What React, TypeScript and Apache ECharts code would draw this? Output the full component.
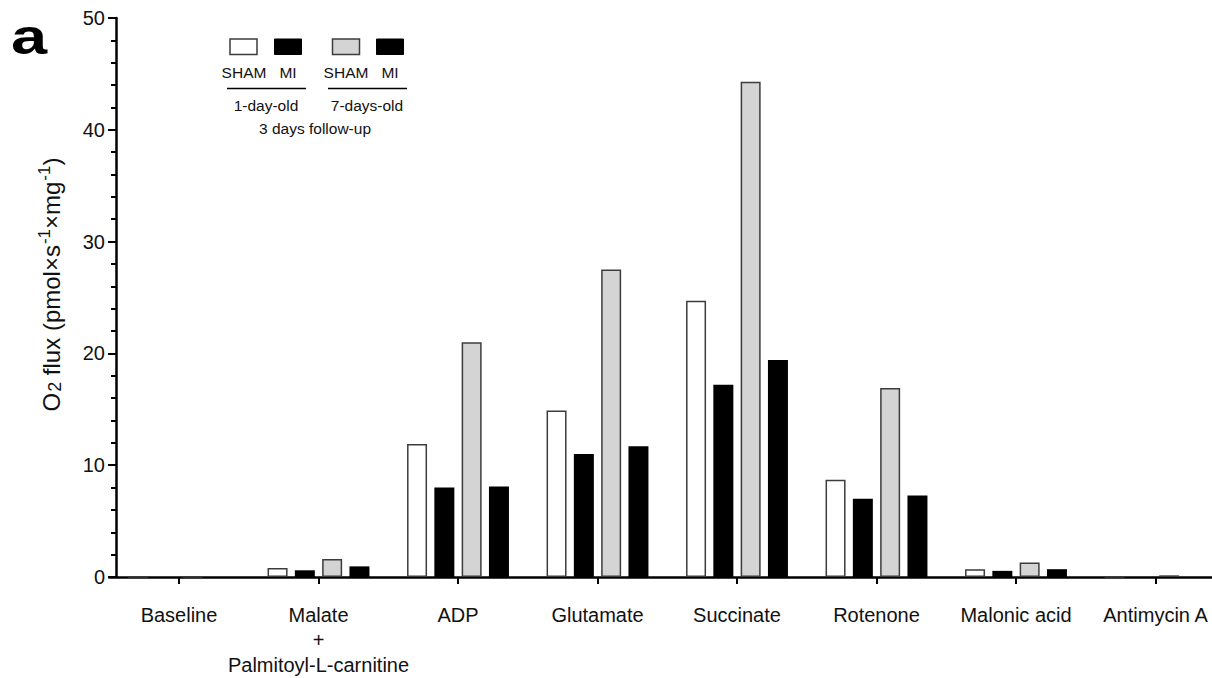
import React, { useEffect, useRef } from "react";
import * as echarts from "echarts";

const categories = [
  "Baseline",
  "Malate\n+\nPalmitoyl-L-carnitine",
  "ADP",
  "Glutamate",
  "Succinate",
  "Rotenone",
  "Malonic acid",
  "Antimycin A",
];
const sham1Day = [0, 0.8, 11.9, 14.9, 24.7, 8.7, 0.7, 0];
const mi1Day = [0, 0.6, 8.0, 11.0, 17.2, 7.0, 0.55, 0];
const sham7Days = [0, 1.6, 21.0, 27.5, 44.3, 16.9, 1.3, 0.15];
const mi7Days = [0, 0.95, 8.1, 11.7, 19.4, 7.3, 0.7, 0];

const FONT = "'Liberation Sans', Arial, Helvetica, sans-serif";
const TXT = "#111";
const EDGE = "#3c3c3c";
const GRAY = "#d4d4d4";

export default function App() {
  const ref = useRef<HTMLDivElement>(null);
  useEffect(() => {
    if (!ref.current) return;
    const chart = echarts.init(ref.current, undefined, { renderer: "svg" });
    const barBase = {
      type: "bar" as const,
      barWidth: 20,
      barGap: "36.5%",
    };
    const legendFont = `15.5px ${FONT}`;
    chart.setOption({
      animation: false,
      textStyle: { fontFamily: FONT },
      grid: { left: 109.25, top: 18, width: 1116, height: 559 },
      xAxis: {
        type: "category",
        data: categories,
        axisLine: { show: true, lineStyle: { color: "#000", width: 2.5 } },
        axisTick: { show: true, alignWithLabel: true, length: 7, lineStyle: { color: "#000", width: 2 } },
        axisLabel: {
          interval: 0,
          margin: 25,
          fontSize: 20,
          lineHeight: 25,
          color: TXT,
          fontFamily: FONT,
        },
      },
      yAxis: {
        type: "value",
        min: 0,
        max: 50,
        interval: 10,
        offset: -6.75,
        splitLine: { show: false },
        axisLine: { show: true, lineStyle: { color: "#000", width: 2.5 } },
        axisTick: { show: true, length: 8, lineStyle: { color: "#000", width: 2 } },
        minorTick: { show: true, splitNumber: 5, length: 5, lineStyle: { color: "#000", width: 2 } },
        axisLabel: { margin: 11, fontSize: 20, color: TXT, fontFamily: FONT },
        name: "{n|O}{sub|2}{n| flux (pmol×s}{sup|-1}{n|×mg}{sup|-1}{n|)}",
        nameLocation: "middle",
        nameGap: 50,
        nameTextStyle: {
          color: TXT,
          fontFamily: FONT,
          padding: [0, 0, 0, 26],
          rich: {
            n: { fontSize: 24, color: TXT, fontFamily: FONT, lineHeight: 30, verticalAlign: "middle" },
            sub: { fontSize: 18, color: TXT, fontFamily: FONT, lineHeight: 30, verticalAlign: "middle", padding: [7, 0, 0, 1] },
            sup: { fontSize: 17, color: TXT, fontFamily: FONT, lineHeight: 30, verticalAlign: "middle", padding: [0, 0, 14, 1] },
          },
        },
      },
      series: [
        { ...barBase, name: "SHAM 1-day-old", data: sham1Day, itemStyle: { color: "#fff", borderColor: EDGE, borderWidth: 1.5 } },
        { ...barBase, name: "MI 1-day-old", data: mi1Day, itemStyle: { color: "#000", borderColor: "#000", borderWidth: 0 } },
        { ...barBase, name: "SHAM 7-days-old", data: sham7Days, itemStyle: { color: GRAY, borderColor: EDGE, borderWidth: 1.5 } },
        { ...barBase, name: "MI 7-days-old", data: mi7Days, itemStyle: { color: "#000", borderColor: "#000", borderWidth: 0 } },
      ],
      graphic: [
        { type: "text", x: 11, y: 37, scaleX: 1.3, style: { text: "a", font: `bold 50px ${FONT}`, fill: "#000", verticalAlign: "middle" } },
        { type: "rect", shape: { x: 230, y: 39, width: 27, height: 15.5 }, style: { fill: "#fff", stroke: EDGE, lineWidth: 1.5 } },
        { type: "rect", shape: { x: 274.5, y: 39, width: 27, height: 15.5 }, style: { fill: "#000", stroke: "#000", lineWidth: 1 } },
        { type: "rect", shape: { x: 332.5, y: 39, width: 27, height: 15.5 }, style: { fill: GRAY, stroke: EDGE, lineWidth: 1.5 } },
        { type: "rect", shape: { x: 376.5, y: 39, width: 27, height: 15.5 }, style: { fill: "#000", stroke: "#000", lineWidth: 1 } },
        { type: "text", x: 244, y: 72, style: { text: "SHAM", font: legendFont, fill: TXT, align: "center", verticalAlign: "middle" } },
        { type: "text", x: 288, y: 72, style: { text: "MI", font: legendFont, fill: TXT, align: "center", verticalAlign: "middle" } },
        { type: "text", x: 346, y: 72, style: { text: "SHAM", font: legendFont, fill: TXT, align: "center", verticalAlign: "middle" } },
        { type: "text", x: 390, y: 72, style: { text: "MI", font: legendFont, fill: TXT, align: "center", verticalAlign: "middle" } },
        { type: "line", shape: { x1: 227, y1: 88.5, x2: 306, y2: 88.5 }, style: { stroke: "#000", lineWidth: 1.3 } },
        { type: "line", shape: { x1: 328, y1: 88.5, x2: 407, y2: 88.5 }, style: { stroke: "#000", lineWidth: 1.3 } },
        { type: "text", x: 266, y: 105, style: { text: "1-day-old", font: legendFont, fill: TXT, align: "center", verticalAlign: "middle" } },
        { type: "text", x: 367, y: 105, style: { text: "7-days-old", font: legendFont, fill: TXT, align: "center", verticalAlign: "middle" } },
        { type: "text", x: 315, y: 128, style: { text: "3 days follow-up", font: legendFont, fill: TXT, align: "center", verticalAlign: "middle" } },
      ],
    });
    return () => chart.dispose();
  }, []);
  return (
    <div
      style={{ position: "fixed", left: 0, top: 0, width: 1212, height: 678, overflow: "hidden", background: "#fff" }}
    >
      <div ref={ref} style={{ position: "absolute", left: 0, top: 0, width: 1240, height: 678 }} />
    </div>
  );
}
